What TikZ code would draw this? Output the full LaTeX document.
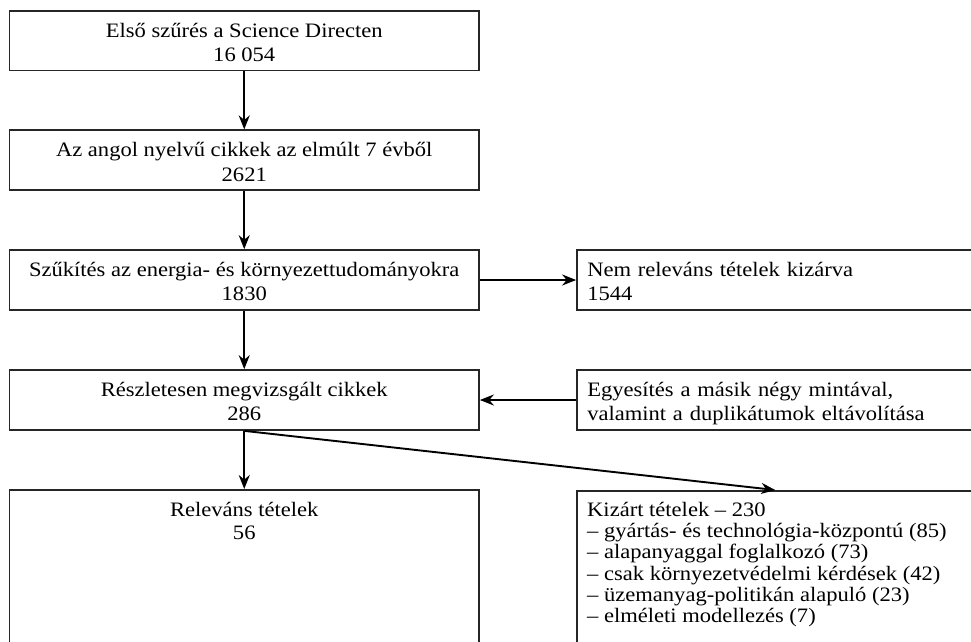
\documentclass[tikz,border=0pt]{standalone}
\usepackage{fontspec}
\setmainfont[FakeStretch=1.1]{Liberation Serif}
\usetikzlibrary{arrows.meta}
\newcommand{\topst}{\rule{0pt}{22.5pt}}
\newcommand{\botst}{\rule[-5pt]{0pt}{5pt}}
\begin{document}
\begin{tikzpicture}[x=1pt,y=-1pt,
  box/.style={draw=black!85, line width=1.7pt, inner sep=0pt},
  cbox/.style={box, align=center, font=\fontsize{20.5}{24.4}\selectfont},
  lbox/.style={box, align=left, inner xsep=10pt, text width=376pt, font=\fontsize{20.5}{24}\selectfont},
  arr/.style={line width=1.9pt, -{Stealth[length=14pt,width=11pt]}}
]
\useasboundingbox (0,0) rectangle (971,641);
\node[cbox, minimum width=469.5pt, minimum height=59.5pt] (b1) at (244.25,40.75) {\topst Első szűrés a Science Directen\\16 054\botst};
\node[cbox, minimum width=469.5pt, minimum height=60pt] (b2) at (244.25,160.25) {\topst Az angol nyelvű cikkek az elmúlt 7 évből\\2621\botst};
\node[cbox, minimum width=469.5pt, minimum height=60pt] (b3) at (244.25,280) {\topst Szűkítés az energia- és környezettudományokra\\1830\botst};
\node[cbox, minimum width=469.5pt, minimum height=60pt] (b4) at (244.25,400) {\topst Részletesen megvizsgált cikkek\\286\botst};
\node[lbox, minimum width=396.5pt, minimum height=60pt] (nem) at (775.25,280) {\topst Nem releváns tételek kizárva\\1544\botst};
\node[lbox, minimum width=396.5pt, minimum height=60pt] (egy) at (775.25,400) {\topst Egyesítés a másik négy mintával,\\valamint a duplikátumok eltávolítása\botst};
\node[box, minimum width=469.5pt, minimum height=191pt, anchor=north] (b5) at (244.25,489) {};
\node[box, minimum width=396.5pt, minimum height=190pt, anchor=north] (kiz) at (775.25,490) {};
\node[align=center, anchor=north, inner sep=0pt, font=\fontsize{20.5}{23.4}\selectfont] (b5t) at (244.25,493.5) {\topst Releváns tételek\\56};
\node[align=left, anchor=north west, inner sep=0pt, font=\fontsize{20.5}{21.3}\selectfont] (kizt) at (587,493.5) {\topst Kizárt tételek – 230\\– gyártás- és technológia-központú (85)\\– alapanyaggal foglalkozó (73)\\– csak környezetvédelmi kérdések (42)\\– üzemanyag-politikán alapuló (23)\\– elméleti modellezés (7)};
\draw[arr] (b1.south) -- (b2.north);
\draw[arr] (b2.south) -- (b3.north);
\draw[arr] (b3.south) -- (b4.north);
\draw[arr] (b3.east) -- (nem.west);
\draw[arr] (egy.west) -- (b4.east);
\draw[arr] (b4.south) -- (b5.north);
\draw[arr] (b4.south) -- (kiz.north);
\end{tikzpicture}
\end{document}
